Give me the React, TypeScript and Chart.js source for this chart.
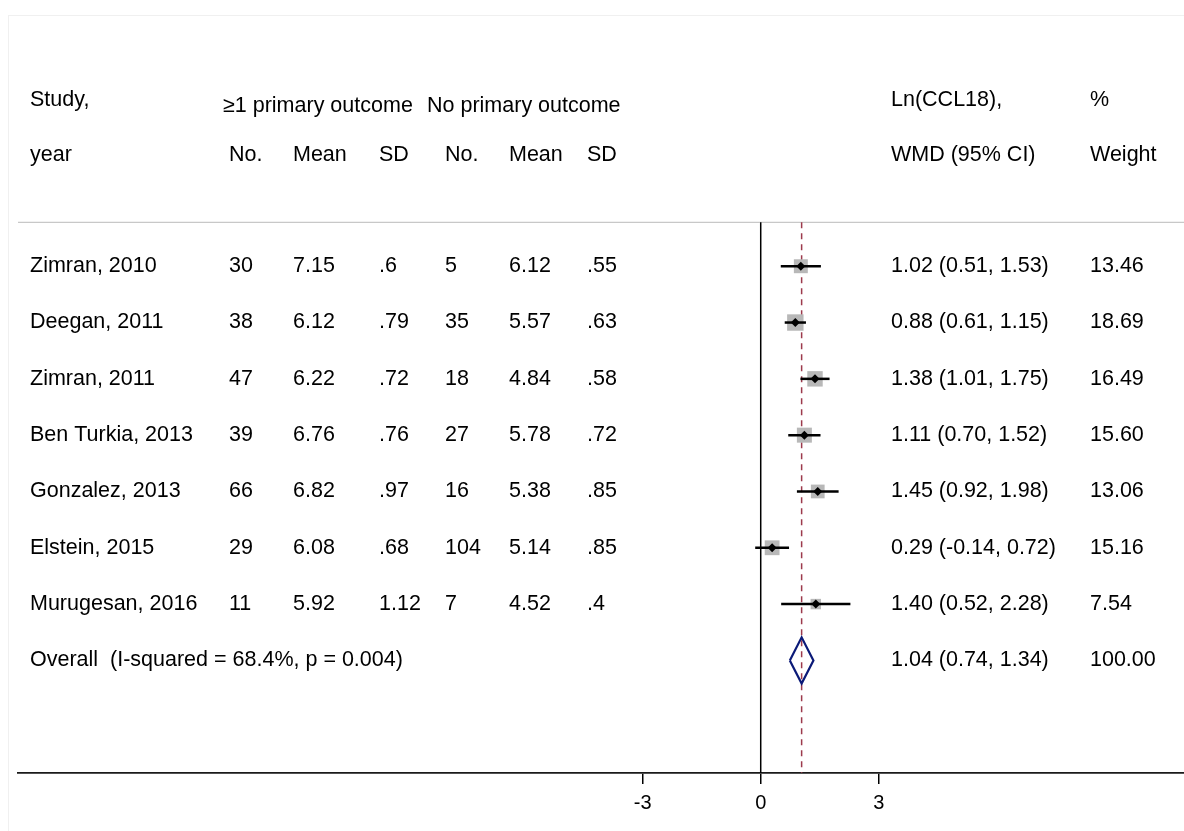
import React, { useEffect, useRef } from "react";
import { Chart, registerables } from "chart.js";

Chart.register(...registerables);

const studies = ["Zimran, 2010", "Deegan, 2011", "Zimran, 2011", "Ben Turkia, 2013", "Gonzalez, 2013", "Elstein, 2015", "Murugesan, 2016"];
const n1 = ["30", "38", "47", "39", "66", "29", "11"];
const mean1 = ["7.15", "6.12", "6.22", "6.76", "6.82", "6.08", "5.92"];
const sd1 = [".6", ".79", ".72", ".76", ".97", ".68", "1.12"];
const n2 = ["5", "35", "18", "27", "16", "104", "7"];
const mean2 = ["6.12", "5.57", "4.84", "5.78", "5.38", "5.14", "4.52"];
const sd2 = [".55", ".63", ".58", ".72", ".85", ".85", ".4"];
const wmd = [1.02, 0.88, 1.38, 1.11, 1.45, 0.29, 1.4];
const ciLow = [0.51, 0.61, 1.01, 0.7, 0.92, -0.14, 0.52];
const ciHigh = [1.53, 1.15, 1.75, 1.52, 1.98, 0.72, 2.28];
const weights = [13.46, 18.69, 16.49, 15.6, 13.06, 15.16, 7.54];
const overallLabel = "Overall  (I-squared = 68.4%, p = 0.004)";
const overallEst = 1.04;
const overallLow = 0.74;
const overallHigh = 1.34;
const overallWeight = 100.0;
const xTicks = [-3, 0, 3];

const FONT = '"Liberation Sans", Arial, Helvetica, sans-serif';
const X_MIN = -18.88;
const X_MAX = 10.76;
const Y_MIN = -4;
const Y_MAX = 9;
const SEP_ROW = -0.78;
const OVERALL_ROW = studies.length;

export default function App() {
  const ref = useRef<HTMLCanvasElement | null>(null);

  useEffect(() => {
    const canvas = ref.current;
    if (!canvas) return;

    const boxRadius = weights.map((w) => (3.8 * Math.sqrt(w)) / Math.SQRT2);

    const ciSets = studies.map((_, i) => ({
      type: "line" as const,
      data: [
        { x: ciLow[i], y: i },
        { x: ciHigh[i], y: i },
      ],
      borderColor: "#000000",
      borderWidth: 2.5,
      pointRadius: 0,
      fill: false,
      order: 1,
    }));

    const h = 0.41;
    const textPlugin = {
      id: "forestText",
      beforeDraw(chart: any) {
        const ctx = chart.ctx;
        ctx.save();
        ctx.fillStyle = "#ffffff";
        ctx.fillRect(0, 0, chart.width, chart.height);
        ctx.strokeStyle = "#f0f0f0";
        ctx.lineWidth = 1;
        ctx.strokeRect(8.5, 15.5, chart.width, chart.height);
        ctx.restore();
      },
      afterDraw(chart: any) {
        const ctx = chart.ctx;
        const y = chart.scales.y;
        ctx.save();
        ctx.fillStyle = "#000000";
        ctx.font = `21.5px ${FONT}`;
        ctx.textBaseline = "middle";
        ctx.textAlign = "left";
        const yr = (r: number) => y.getPixelForValue(r);
        // headers
        ctx.fillText("Study,", 30, yr(-2.95));
        ctx.fillText("≥1 primary outcome", 223, yr(-2.84));
        ctx.fillText("No primary outcome", 427, yr(-2.84));
        ctx.fillText("Ln(CCL18),", 891, yr(-2.95));
        ctx.fillText("%", 1090, yr(-2.95));
        const r2 = -1.97;
        ctx.fillText("year", 30, yr(r2));
        ctx.fillText("No.", 229, yr(r2));
        ctx.fillText("Mean", 293, yr(r2));
        ctx.fillText("SD", 379, yr(r2));
        ctx.fillText("No.", 445, yr(r2));
        ctx.fillText("Mean", 509, yr(r2));
        ctx.fillText("SD", 587, yr(r2));
        ctx.fillText("WMD (95% CI)", 891, yr(r2));
        ctx.fillText("Weight", 1090, yr(r2));
        studies.forEach((s, i) => {
          const py = yr(i);
          ctx.fillText(s, 30, py);
          ctx.fillText(n1[i], 229, py);
          ctx.fillText(mean1[i], 293, py);
          ctx.fillText(sd1[i], 379, py);
          ctx.fillText(n2[i], 445, py);
          ctx.fillText(mean2[i], 509, py);
          ctx.fillText(sd2[i], 587, py);
          ctx.fillText(`${wmd[i].toFixed(2)} (${ciLow[i].toFixed(2)}, ${ciHigh[i].toFixed(2)})`, 891, py);
          ctx.fillText(weights[i].toFixed(2), 1090, py);
        });
        const po = yr(OVERALL_ROW);
        ctx.fillText(overallLabel, 30, po);
        ctx.fillText(`${overallEst.toFixed(2)} (${overallLow.toFixed(2)}, ${overallHigh.toFixed(2)})`, 891, po);
        ctx.fillText(overallWeight.toFixed(2), 1090, po);
        ctx.restore();
      },
    };

    const chart = new Chart(canvas, {
      type: "scatter",
      data: {
        datasets: [
          {
            type: "scatter",
            data: studies.map((_, i) => ({ x: wmd[i], y: i })),
            pointStyle: "rectRot",
            pointRadius: 4.5,
            backgroundColor: "#000000",
            borderColor: "#000000",
            borderWidth: 0,
            order: 0,
          } as any,
          ...ciSets,
          {
            type: "scatter",
            data: studies.map((_, i) => ({ x: wmd[i], y: i })),
            pointStyle: "rect",
            pointRadius: boxRadius,
            backgroundColor: "#b8b8b8",
            borderWidth: 0,
            order: 2,
          },
          {
            type: "line",
            data: [
              { x: overallLow, y: OVERALL_ROW },
              { x: overallEst, y: OVERALL_ROW - h },
              { x: overallHigh, y: OVERALL_ROW },
              { x: overallEst, y: OVERALL_ROW + h },
              { x: overallLow, y: OVERALL_ROW },
            ],
            borderColor: "#0b1a78",
            borderWidth: 2.2,
            pointRadius: 0,
            fill: false,
            order: 1,
          },
          {
            type: "line",
            data: [
              { x: overallEst, y: SEP_ROW },
              { x: overallEst, y: Y_MAX },
            ],
            borderColor: "#9c3a4c",
            borderWidth: 1.5,
            borderDash: [6, 5],
            pointRadius: 0,
            fill: false,
            order: 3,
          },
          {
            type: "line",
            data: [
              { x: 0, y: SEP_ROW },
              { x: 0, y: Y_MAX },
            ],
            borderColor: "#000000",
            borderWidth: 1.5,
            pointRadius: 0,
            fill: false,
            order: 4,
          },
          {
            type: "line",
            data: [
              { x: X_MIN, y: SEP_ROW },
              { x: X_MAX, y: SEP_ROW },
            ],
            borderColor: "#c8c8c8",
            borderWidth: 1.2,
            pointRadius: 0,
            fill: false,
            order: 5,
          },
        ] as any,
      },
      options: {
        animation: false,
        responsive: false,
        devicePixelRatio: 1,
        layout: { autoPadding: false, padding: { left: 18, right: 0, top: 41, bottom: 0 } },
        plugins: { legend: { display: false }, tooltip: { enabled: false } },
        scales: {
          x: {
            type: "linear",
            min: X_MIN,
            max: X_MAX,
            afterBuildTicks: (scale: any) => {
              scale.ticks = xTicks.map((v) => ({ value: v }));
            },
            afterFit: (scale: any) => {
              scale.height = 58;
              scale.paddingLeft = 0;
              scale.paddingRight = 0;
            },
            grid: {
              drawOnChartArea: false,
              drawTicks: true,
              tickLength: 11,
              color: "#000000",
              lineWidth: 1.5,
            },
            border: { display: true, color: "#1a1a1a", width: 1.8 },
            ticks: {
              color: "#000000",
              font: { size: 20, family: FONT },
              padding: 7,
              maxRotation: 0,
              autoSkip: false,
              callback: (v: any) => String(v),
            },
          },
          y: {
            type: "linear",
            display: false,
            reverse: true,
            min: Y_MIN,
            max: Y_MAX,
          },
        },
      },
      plugins: [textPlugin],
    });

    return () => chart.destroy();
  }, []);

  return (
    <div style={{ position: "fixed", left: 0, top: 0, width: 1184, height: 831, background: "#fff" }}>
      <canvas ref={ref} width={1184} height={831} style={{ display: "block" }} />
    </div>
  );
}
